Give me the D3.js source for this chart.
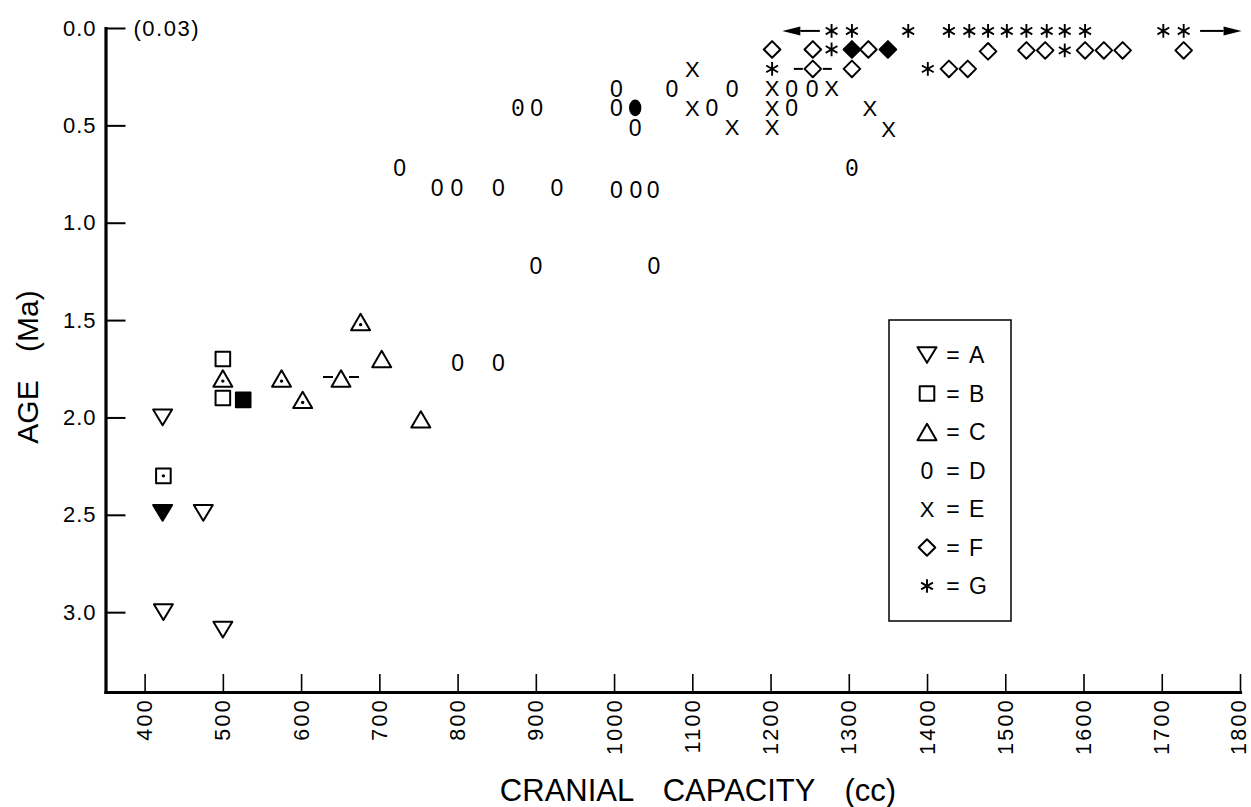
<!DOCTYPE html>
<html><head><meta charset="utf-8">
<script src="https://cdn.jsdelivr.net/npm/d3@7"></script>
<style>
html,body{margin:0;padding:0;background:#fff;}
svg{display:block;font-family:"Liberation Sans",Arial,Helvetica,sans-serif;}
</style></head><body>
<svg id="chart" width="1251" height="807"></svg>
<script>
// ---------------- DATA ----------------
const seriesNames = ["A","B","C","D","E","F","G"];
const seriesShapes = ["triDown","square","triUp","zero","ex","diamond","asterisk"];

const A_cc   = [423, 423, 475, 424, 500];
const A_age  = [2.00, 2.49, 2.49, 3.00, 3.09];
const A_mark = ["open","filled","open","open","open"];

const B_cc   = [424, 500, 500, 526];
const B_age  = [2.30, 1.70, 1.90, 1.91];
const B_mark = ["dot","open","open","filled"];

const C_cc   = [500, 575, 602, 651, 676, 703, 753];
const C_age  = [1.80, 1.80, 1.91, 1.80, 1.51, 1.70, 2.01];
const C_mark = ["dot","dot","dot","dash","dot","open","open"];

const D_cc   = [726, 774, 799, 852, 927, 1003, 1028, 1050, 900, 1051, 800, 852,
                877, 901, 1003, 1003, 1027, 1027, 1074, 1125, 1151, 1227, 1253, 1227, 1304];
const D_age  = [0.72, 0.82, 0.82, 0.82, 0.82, 0.83, 0.83, 0.83, 1.22, 1.22, 1.72, 1.72,
                0.41, 0.41, 0.31, 0.41, 0.41, 0.51, 0.31, 0.41, 0.31, 0.31, 0.31, 0.41, 0.72];
const D_mark = ["open","open","open","open","open","open","open","open","open","open","open","open",
                "dot","open","open","open","filled","open","open","open","open","open","open","open","dot"];

const E_cc   = [1100, 1100, 1151, 1202, 1202, 1202, 1278, 1327, 1351];
const E_age  = [0.21, 0.41, 0.51, 0.31, 0.41, 0.51, 0.31, 0.41, 0.52];
const E_mark = ["open","open","open","open","open","open","open","open","open"];

const F_cc   = [1202, 1254, 1304, 1325, 1350, 1478, 1527, 1551, 1602, 1626, 1650, 1728, 1254, 1304, 1428, 1452];
const F_age  = [0.11, 0.11, 0.11, 0.11, 0.11, 0.12, 0.115, 0.115, 0.115, 0.115, 0.115, 0.115, 0.21, 0.21, 0.21, 0.21];
const F_mark = ["open","open","filled","open","filled","open","open","open","open","open","open","open","dash","open","open","open"];

const G_cc   = [1278, 1304, 1376, 1428, 1454, 1478, 1502, 1527, 1553, 1576, 1602, 1702, 1728, 1278, 1576, 1202, 1401];
const G_age  = [0.015, 0.015, 0.015, 0.015, 0.015, 0.015, 0.015, 0.015, 0.015, 0.015, 0.015, 0.015, 0.015, 0.11, 0.115, 0.21, 0.21];
const G_mark = ["open","open","open","open","open","open","open","open","open","open","open","open","open","open","open","open","open"];

// arrows on the top row (open-ended ranges)
const arrowFrom = [1263, 1749];
const arrowTo   = [1215, 1802];
const arrowAge  = 0.015;

const xTicks = [400,500,600,700,800,900,1000,1100,1200,1300,1400,1500,1600,1700,1800];
const yTicks = [0, 0.5, 1.0, 1.5, 2.0, 2.5, 3.0];
const topNote = "(0.03)";
const xTitle = "CRANIAL CAPACITY (cc)";
const yTitle = "AGE (Ma)";

// ---------------- BUILD ----------------
const seriesData = [
  [A_cc, A_age, A_mark], [B_cc, B_age, B_mark], [C_cc, C_age, C_mark], [D_cc, D_age, D_mark],
  [E_cc, E_age, E_mark], [F_cc, F_age, F_mark], [G_cc, G_age, G_mark]
];
const points = [];
seriesData.forEach((s, i) => {
  s[0].forEach((cc, j) => points.push({series: seriesNames[i], shape: seriesShapes[i], cc, age: s[1][j], mark: s[2][j]}));
});

const svg = d3.select("#chart");
const x = d3.scaleLinear().domain([350, 1800]).range([105.5, 1240]);
const y = d3.scaleLinear().domain([0, 3.41]).range([28, 692]);

// custom symbol types
const symTriDown = {draw(c, s){ const w = s, h = s*1.65; c.moveTo(-w,-h/2); c.lineTo(w,-h/2); c.lineTo(0,h/2); c.closePath(); }};
const symTriUp   = {draw(c, s){ const w = s, h = s*1.72; c.moveTo(0,-h/2); c.lineTo(w,h/2); c.lineTo(-w,h/2); c.closePath(); }};
const symSquare  = {draw(c, s){ c.rect(-s,-s,2*s,2*s); }};
const symDiamond = {draw(c, s){ c.moveTo(0,-s); c.lineTo(s,0); c.lineTo(0,s); c.lineTo(-s,0); c.closePath(); }};
const symAster   = {draw(c, r){ const t = r/2, u = t*Math.sqrt(3);
  c.moveTo(0,r); c.lineTo(0,-r); c.moveTo(-u,-t); c.lineTo(u,t); c.moveTo(-u,t); c.lineTo(u,-t); }};
const shapeDefs = {
  triDown: {type: symTriDown, size: 9.5, sw: 2},
  triUp:   {type: symTriUp, size: 9.5, sw: 2},
  square:  {type: symSquare, size: 7.3, sw: 2},
  diamond: {type: symDiamond, size: 8.3, sw: 2},
  asterisk:{type: symAster, size: 6.8, sw: 1.9}
};

function drawMarker(g, shape, mark, cx, cy) {
  const grp = g.append("g").attr("transform", `translate(${cx},${cy})`);
  if (shape === "zero") {
    if (mark === "filled") {
      grp.append("ellipse").attr("rx", 6.2).attr("ry", 8.3).attr("fill", "#000");
    } else {
      grp.append("text").text("0").attr("text-anchor","middle").attr("dy","0.36em")
        .attr("font-size", 23).attr("fill","#000");
      if (mark === "dot") grp.append("circle").attr("r", 1.5).attr("fill", "#000");
    }
    return;
  }
  if (shape === "ex") {
    grp.append("text").text("X").attr("text-anchor","middle").attr("dy","0.36em")
      .attr("font-size", 22).attr("fill","#000");
    return;
  }
  const def = shapeDefs[shape];
  const path = d3.symbol().type(def.type).size(def.size)();
  grp.append("path").attr("d", path)
    .attr("fill", mark === "filled" ? "#000" : "none")
    .attr("stroke", "#000").attr("stroke-width", def.sw)
    .attr("stroke-linejoin", "round");
  if (mark === "dot") {
    const dy = shape === "triUp" ? 2.6 : 0;
    grp.append("circle").attr("cy", dy).attr("r", 1.7).attr("fill", "#000");
  }
  if (mark === "dash") {
    const dyy = shape === "triUp" ? -1.5 : 0;
    const inner = shape === "triUp" ? 8 : 10, outer = shape === "triUp" ? 18 : 19;
    grp.append("line").attr("x1",-outer).attr("x2",-inner).attr("y1",dyy).attr("y2",dyy).attr("stroke","#000").attr("stroke-width",2);
    grp.append("line").attr("x1",inner).attr("x2",outer).attr("y1",dyy).attr("y2",dyy).attr("stroke","#000").attr("stroke-width",2);
  }
}

// ---------------- AXES ----------------
const gx = svg.append("g").attr("transform", `translate(0,${y(3.41)})`)
  .call(d3.axisBottom(x).tickValues(xTicks).tickSize(-18).tickSizeOuter(0).tickFormat(d3.format("d")));
gx.attr("font-family", null).attr("font-size", 21.5);
gx.select(".domain").attr("stroke-width", 3.2).attr("stroke-linecap","square");
gx.selectAll(".tick line").attr("stroke-width", 1.6);
gx.selectAll(".tick text").attr("x", 0).attr("y", 0).attr("dy", "0.33em")
  .attr("transform", (d) => `translate(${d === 1800 ? -1.5 : 0},6) rotate(-90)`).attr("text-anchor", "end")
  .attr("letter-spacing", 2.3).attr("fill", "#000");

const gy = svg.append("g").attr("transform", `translate(${x(350)},0)`)
  .call(d3.axisLeft(y).tickValues(yTicks).tickSize(-20).tickSizeOuter(0).tickPadding(9).tickFormat(d3.format(".1f")));
gy.attr("font-family", null).attr("font-size", 22);
gy.select(".domain").attr("stroke-width", 3.2).attr("stroke-linecap","square");
gy.selectAll(".tick line").attr("stroke-width", 2);
gy.selectAll(".tick text").attr("letter-spacing", 1).attr("fill", "#000");

svg.append("text").text(topNote).attr("x", x(350) + 28).attr("y", y(0)).attr("dy", "0.36em")
  .attr("font-size", 22).attr("letter-spacing", 1.5).attr("fill", "#000");

// titles
svg.append("text").text(xTitle).attr("x", 698).attr("y", 801)
  .attr("text-anchor", "middle").attr("font-size", 31).attr("word-spacing", 21).attr("fill", "#000");
svg.append("text").text(yTitle).attr("transform", "translate(38,367) rotate(-90)")
  .attr("text-anchor", "middle").attr("font-size", 30).attr("word-spacing", 20).attr("fill", "#000");

// ---------------- ARROWS ----------------
const ga = svg.append("g");
arrowFrom.forEach((f, i) => {
  const x0 = x(f), x1 = x(arrowTo[i]), yy = y(arrowAge);
  const dir = Math.sign(x1 - x0);
  const hl = 18, hw = 4.5;
  ga.append("line").attr("x1", x0).attr("x2", x1 - dir*hl).attr("y1", yy).attr("y2", yy)
    .attr("stroke", "#000").attr("stroke-width", 2);
  ga.append("path").attr("d", `M${x1},${yy}L${x1 - dir*hl},${yy - hw}L${x1 - dir*hl},${yy + hw}Z`).attr("fill", "#000");
});

// ---------------- POINTS ----------------
const gp = svg.append("g");
points.forEach(p => drawMarker(gp, p.shape, p.mark, x(p.cc), y(p.age)));

// ---------------- LEGEND ----------------
const lg = svg.append("g");
lg.append("rect").attr("x", 889).attr("y", 320).attr("width", 122).attr("height", 301)
  .attr("fill", "none").attr("stroke", "#000").attr("stroke-width", 1.5);
seriesNames.forEach((n, i) => {
  const ly = 355 + i * 38.5;
  drawMarker(lg, seriesShapes[i], "open", 927, ly);
  lg.append("text").text("=").attr("x", 953).attr("y", ly).attr("dy", "0.36em")
    .attr("text-anchor", "middle").attr("font-size", 23).attr("fill", "#000");
  lg.append("text").text(n).attr("x", 969).attr("y", ly).attr("dy", "0.36em")
    .attr("font-size", 23).attr("fill", "#000");
});
</script>
</body></html>
